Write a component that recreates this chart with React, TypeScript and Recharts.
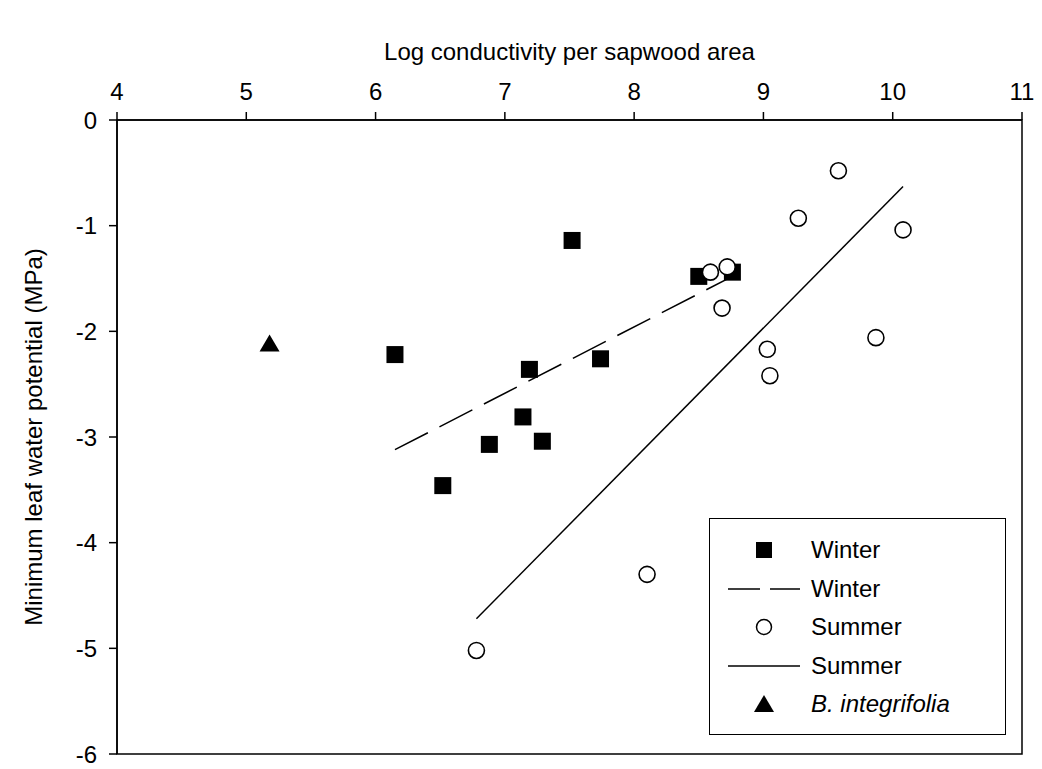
import React from 'react'
import { ScatterChart, Scatter, XAxis, YAxis, ReferenceArea, Legend } from 'recharts'

const FONT = '"Liberation Sans", Arial, sans-serif'
const TICK = { fill: '#000', fontSize: 24, fontFamily: FONT }

// log conductivity (x) vs minimum leaf water potential in MPa (y)
const winter = [
  { x: 6.15, y: -2.22 },
  { x: 6.52, y: -3.46 },
  { x: 6.88, y: -3.07 },
  { x: 7.14, y: -2.81 },
  { x: 7.19, y: -2.36 },
  { x: 7.29, y: -3.04 },
  { x: 7.52, y: -1.14 },
  { x: 7.74, y: -2.26 },
  { x: 8.5, y: -1.48 },
  { x: 8.76, y: -1.44 },
]

const summer = [
  { x: 6.78, y: -5.02 },
  { x: 8.1, y: -4.3 },
  { x: 8.59, y: -1.44 },
  { x: 8.68, y: -1.78 },
  { x: 8.72, y: -1.39 },
  { x: 9.03, y: -2.17 },
  { x: 9.05, y: -2.42 },
  { x: 9.27, y: -0.93 },
  { x: 9.58, y: -0.48 },
  { x: 9.87, y: -2.06 },
  { x: 10.08, y: -1.04 },
]

const integrifolia = [{ x: 5.18, y: -2.12 }]

// regression lines, end points only
const winterFit = [
  { x: 6.15, y: -3.12 },
  { x: 8.76, y: -1.48 },
]
const summerFit = [
  { x: 6.78, y: -4.72 },
  { x: 10.08, y: -0.63 },
]

const xTicks = [4, 5, 6, 7, 8, 9, 10, 11]
const yTicks = [-6, -5, -4, -3, -2, -1, 0]

const legendItems = [
  { kind: 'square', label: 'Winter' },
  { kind: 'dash', label: 'Winter' },
  { kind: 'circle', label: 'Summer' },
  { kind: 'solid', label: 'Summer' },
  { kind: 'triangle', label: 'B. integrifolia', italic: true },
]

const Square = (p: any) => <rect x={p.cx - 8.5} y={p.cy - 8.5} width={17} height={17} fill="#000" />
const Circle = (p: any) => <circle cx={p.cx} cy={p.cy} r={8} fill="#fff" stroke="#000" strokeWidth={1.6} />
const Triangle = (p: any) => (
  <path d={`M${p.cx},${p.cy - 9.5} L${p.cx + 10},${p.cy + 7.5} L${p.cx - 10},${p.cy + 7.5} Z`} fill="#000" />
)
const NoShape = () => <g />

function LegendSymbol({ kind }: { kind: string }) {
  return (
    <svg width={80} height={24} style={{ display: 'block' }}>
      {kind === 'square' && <rect x={32} y={4} width={16} height={16} fill="#000" />}
      {kind === 'circle' && <circle cx={40} cy={12} r={7.5} fill="#fff" stroke="#000" strokeWidth={1.5} />}
      {kind === 'triangle' && <path d="M40,3 L50,20 L30,20 Z" fill="#000" />}
      {kind === 'dash' && <path d="M4,12 H76" stroke="#000" strokeWidth={1.5} strokeDasharray="32 10" />}
      {kind === 'solid' && <path d="M4,12 H76" stroke="#000" strokeWidth={1.5} />}
    </svg>
  )
}

function renderLegend() {
  return (
    <div
      style={{
        width: 297,
        height: 217,
        boxSizing: 'border-box',
        border: '1.5px solid #000',
        background: '#fff',
        padding: '12px 0 0 14px',
        fontFamily: FONT,
        fontSize: 24,
        color: '#000',
      }}
    >
      {legendItems.map((item, i) => (
        <div key={i} style={{ display: 'flex', alignItems: 'center', height: 38.5 }}>
          <LegendSymbol kind={item.kind} />
          <span style={{ marginLeft: 7, fontStyle: item.italic ? 'italic' : 'normal' }}>{item.label}</span>
        </div>
      ))}
    </div>
  )
}

const XTitle = ({ viewBox }: any) => (
  <text
    x={viewBox.x + viewBox.width / 2}
    y={viewBox.y}
    textAnchor="middle"
    fontSize={24}
    fontFamily={FONT}
    fill="#000"
  >
    Log conductivity per sapwood area
  </text>
)

const YTitle = ({ viewBox }: any) => {
  const cx = viewBox.x + 20
  const cy = viewBox.y + viewBox.height / 2
  return (
    <text
      x={cx}
      y={cy}
      transform={`rotate(-90, ${cx}, ${cy})`}
      textAnchor="middle"
      dominantBaseline="central"
      fontSize={24}
      fontFamily={FONT}
      fill="#000"
    >
      Minimum leaf water potential (MPa)
    </text>
  )
}

export default function App() {
  return (
    <div style={{ position: 'absolute', left: 0, top: 0 }}>
      <ScatterChart width={1042} height={769} margin={{ top: 60, right: 20, bottom: 15, left: 13 }}>
        <XAxis
          type="number"
          dataKey="x"
          orientation="top"
          domain={[4, 11]}
          ticks={xTicks}
          interval={0}
          height={60}
          tick={TICK}
          tickSize={8}
          tickMargin={12}
          stroke="#000"
          strokeWidth={1.5}
          label={{ content: XTitle }}
        />
        <YAxis
          type="number"
          dataKey="y"
          domain={[-6, 0]}
          ticks={yTicks}
          interval={0}
          width={104}
          tick={TICK}
          tickSize={8}
          tickMargin={12}
          stroke="#000"
          strokeWidth={1.5}
          label={{ content: YTitle }}
        />
        <ReferenceArea x1={4} x2={11} y1={-6} y2={0} fill="none" stroke="#000" strokeWidth={1.5} ifOverflow="visible" />
        <Scatter data={winterFit} line={{ stroke: '#000', strokeWidth: 1.5, strokeDasharray: '37 13' }} shape={NoShape} isAnimationActive={false} />
        <Scatter data={summerFit} line={{ stroke: '#000', strokeWidth: 1.5 }} shape={NoShape} isAnimationActive={false} />
        <Scatter data={winter} shape={Square} isAnimationActive={false} />
        <Scatter data={summer} shape={Circle} isAnimationActive={false} />
        <Scatter data={integrifolia} shape={Triangle} isAnimationActive={false} />
        <Legend
          layout="vertical"
          align="center"
          verticalAlign="middle"
          content={renderLegend}
          wrapperStyle={{ left: 709, top: 518, width: 297, height: 217 }}
        />
      </ScatterChart>
    </div>
  )
}
